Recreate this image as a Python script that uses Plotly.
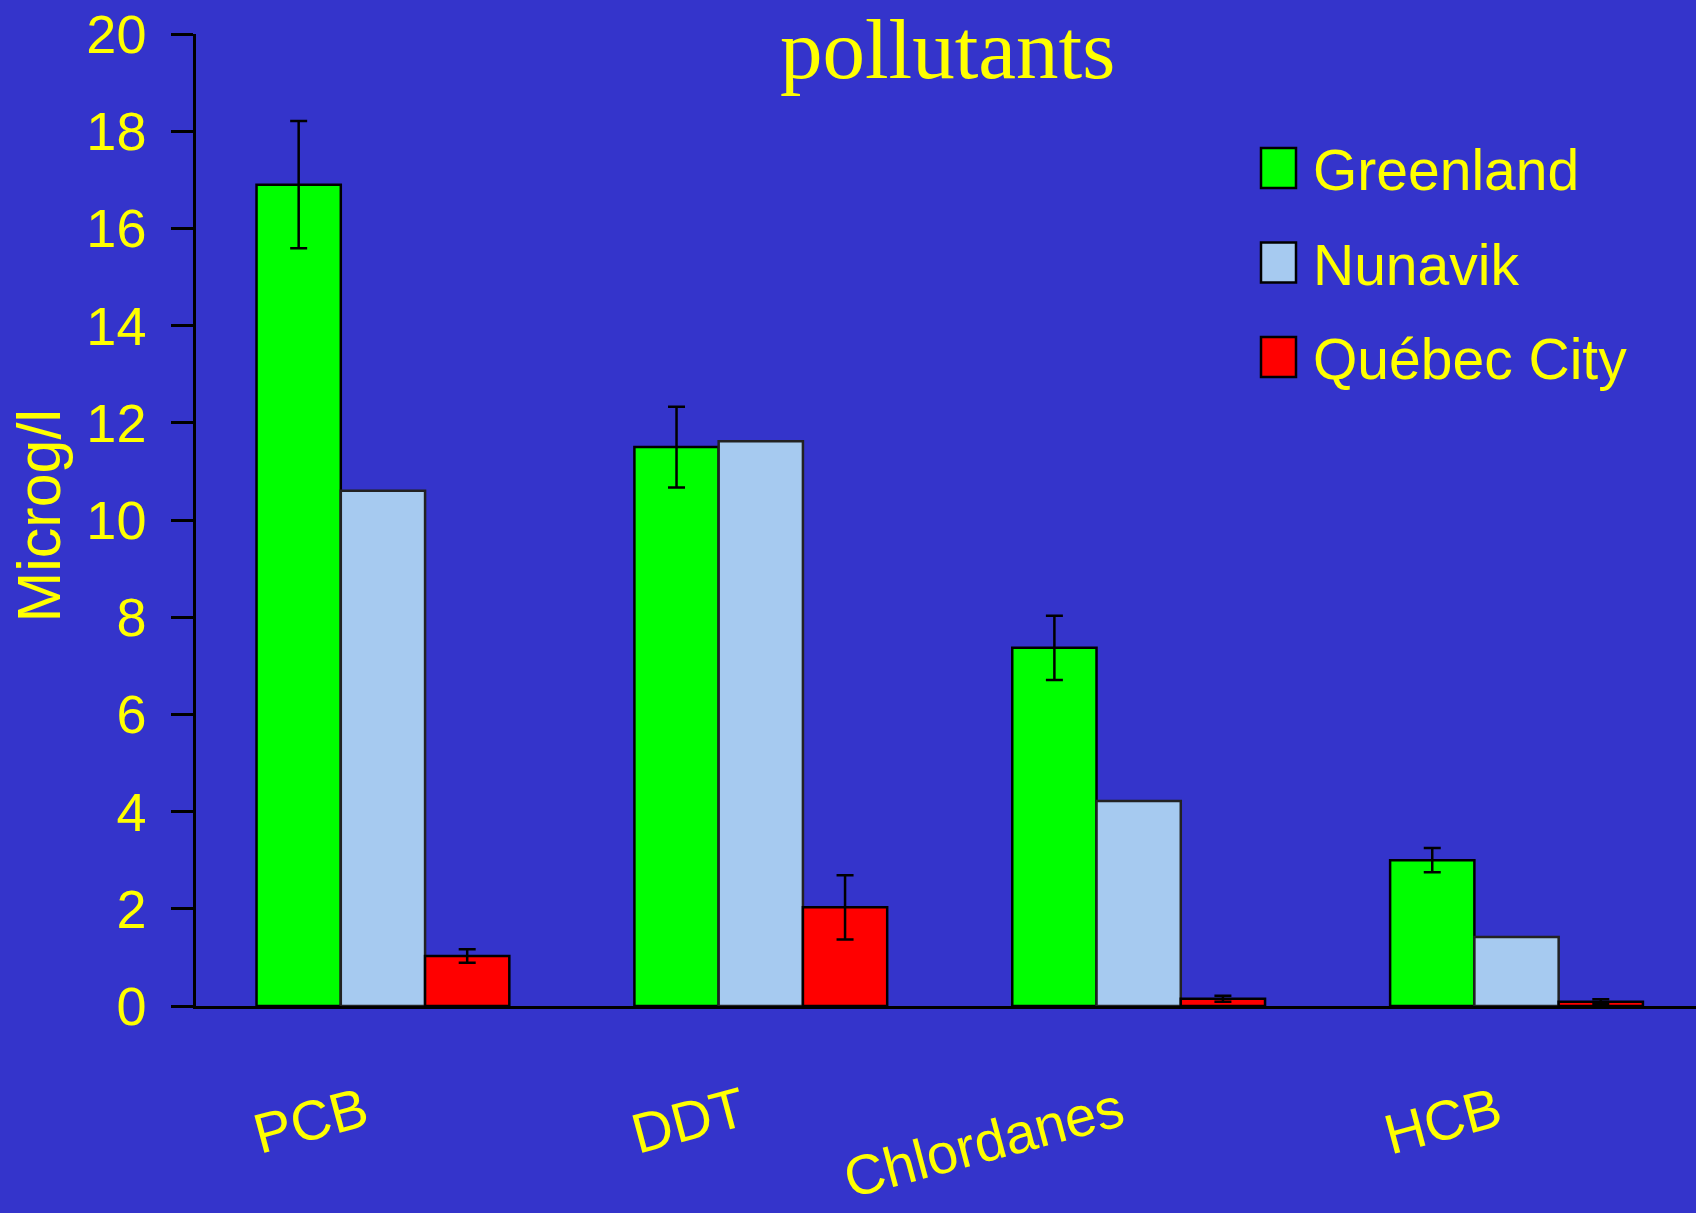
import plotly.graph_objects as go

# ---- data ----
categories = ["PCB", "DDT", "Chlordanes", "HCB"]
series_names = ["Greenland", "Nunavik", "Québec City"]
greenland = [16.9, 11.5, 7.37, 3.0]
greenland_err = [1.31, 0.83, 0.66, 0.25]
nunavik = [10.6, 11.62, 4.22, 1.42]
quebec = [1.03, 2.03, 0.15, 0.09]
quebec_err = [0.14, 0.66, 0.06, 0.05]
y_ticks = [0, 2, 4, 6, 8, 10, 12, 14, 16, 18, 20]

BG = "#3434CB"
YELLOW = "#FFFF00"
colors = ["#00FF00", "#A6CAF0", "#FF0000"]
line_colors = ["#000000", "#222222", "#000000"]

W, H = 1696, 1213
ML, MR, MT, MB = 196, 0, 34, 207
PW, PH = W - ML - MR, H - MT - MB

fig = go.Figure()
values = [greenland, nunavik, quebec]
errors = [greenland_err, None, quebec_err]
x_idx = list(range(len(categories)))
for name, vals, err, col, lc in zip(series_names, values, errors, colors, line_colors):
    kw = {}
    if err is not None:
        kw["error_y"] = dict(type="data", array=err, visible=True, color="black",
                             thickness=2.5, width=8.5)
    fig.add_trace(go.Bar(x=x_idx, y=vals, name=name,
                         marker=dict(color=col, line=dict(color=lc, width=2.5)),
                         showlegend=False, **kw))

def px_to_paper_x(px):
    return (px - ML) / PW

def px_to_paper_y(py):
    return (H - MB - py) / PH

# manual legend
shapes = []
annotations = []
row0, row_step = 168, 94.5
for i, (name, col, lc) in enumerate(zip(series_names, colors, line_colors)):
    cy = row0 + i * row_step
    shapes.append(dict(type="rect", xref="paper", yref="paper",
                       x0=px_to_paper_x(1261), x1=px_to_paper_x(1296),
                       y0=px_to_paper_y(cy + 20), y1=px_to_paper_y(cy - 20),
                       fillcolor=col, line=dict(color="black", width=2.5)))
    annotations.append(dict(text=name, xref="paper", yref="paper",
                            x=px_to_paper_x(1311), y=px_to_paper_y(cy + 2),
                            xanchor="left", yanchor="middle", showarrow=False,
                            font=dict(family="Liberation Sans", size=57, color=YELLOW)))

# title
annotations.append(dict(text="pollutants", xref="paper", yref="paper",
                        x=px_to_paper_x(947.5), y=px_to_paper_y(0),
                        xanchor="center", yanchor="top", showarrow=False,
                        font=dict(family="Liberation Serif", size=85, color=YELLOW)))
# y axis title
annotations.append(dict(text="Microg/l", xref="paper", yref="paper",
                        x=px_to_paper_x(38.5), y=px_to_paper_y(516),
                        xanchor="center", yanchor="middle", textangle=-90,
                        showarrow=False,
                        font=dict(family="Liberation Sans", size=61, color=YELLOW)))

label_shift = 0.05
fig.update_layout(
    width=W, height=H,
    margin=dict(l=ML, r=MR, t=MT, b=MB, autoexpand=False),
    paper_bgcolor=BG, plot_bgcolor=BG,
    barmode="group", bargap=0.331, bargroupgap=0,
    shapes=shapes, annotations=annotations,
    xaxis=dict(type="linear", range=[-0.4947, 3.475], showgrid=False, zeroline=False,
               showline=True, linecolor="black", linewidth=3,
               tickvals=[i - label_shift for i in x_idx], ticktext=categories,
               ticks="", tickangle=-15, ticklabelstandoff=49,
               tickfont=dict(family="Liberation Sans", size=56, color=YELLOW),
               automargin=False),
    yaxis=dict(range=[0, 20], tickvals=y_ticks, showgrid=False, zeroline=False,
               showline=True, linecolor="black", linewidth=2.5,
               ticks="outside", ticklen=22, tickwidth=2.5, tickcolor="black",
               ticklabelstandoff=14,
               tickfont=dict(family="Liberation Sans", size=54, color=YELLOW),
               automargin=False),
)

fig.write_html("out.html",
               config={"displayModeBar": False},
               post_script="document.body.style.margin='0px';"
                           "document.body.style.background='%s';" % BG)
